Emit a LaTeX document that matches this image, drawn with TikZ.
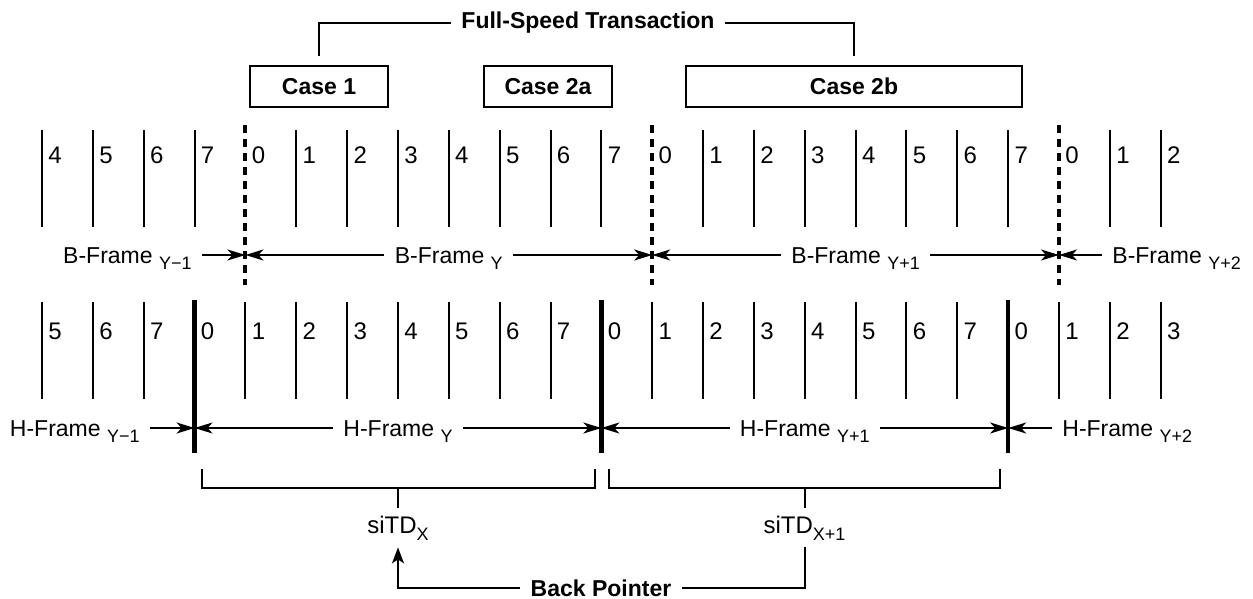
\documentclass[tikz,border=0pt]{standalone}
\usepackage{fontspec}
\setmainfont{Liberation Sans}
\usepackage{tikz}
\usetikzlibrary{arrows.meta, positioning, calc}

\newcommand{\lowsub}[1]{\raisebox{-3.2pt}{\fontsize{9}{10}\selectfont #1}}
\newcommand{\tdsub}[1]{\raisebox{-3.5pt}{\fontsize{9}{10}\selectfont #1}}

\begin{document}
\begin{tikzpicture}[x=0.5pt, y=-0.5pt,
  slotline/.style={line width=1pt},
  bbound/.style={line width=2pt, dash pattern=on 4pt off 3pt},
  hbound/.style={line width=2.2pt},
  slotnum/.style={anchor=west, inner sep=0pt, font=\fontsize{12}{14}\selectfont},
  frlabel/.style={inner xsep=5pt, inner ysep=1pt, font=\fontsize{11.5}{13}\selectfont},
  frarrow/.style={-{Stealth[length=9pt, width=5.5pt, inset=2.5pt]}, line width=1pt},
  casebox/.style={draw, line width=1pt, minimum height=20.5pt, inner sep=0pt, font=\bfseries\fontsize{11.5}{14}\selectfont},
  heading/.style={inner xsep=5pt, font=\bfseries\fontsize{11.5}{14}\selectfont},
  bracket/.style={line width=1pt},
  tdlabel/.style={inner xsep=2pt, inner ysep=3.5pt, font=\fontsize{12}{14}\selectfont},
  ptr/.style={-{Stealth[length=8pt, width=6pt, inset=2pt]}, line width=1pt}
]
  \useasboundingbox (0,0) rectangle (1253,599);

  \def\xo{42}
  \def\dx{50.85}
  \def\btop{130}
  \def\bbot{227}
  \def\bnum{155}
  \def\barr{255}
  \def\bbase{263}
  \def\htop{302}
  \def\hbot{399}
  \def\hnum{331}
  \def\harr{428}
  \def\hbase{436}

  % full-speed cases
  \node[casebox, minimum width=69pt] (case1) at (319,86.5) {Case 1};
  \node[casebox, minimum width=64pt] (case2a) at (548,86.5) {Case 2a};
  \node[casebox, minimum width=168pt] (case2b) at (854,86.5) {Case 2b};
  \node[heading] (fst) at (588,23) {Full-Speed Transaction};
  \draw[bracket] (fst.west) -| ([yshift=4.5pt]case1.north);
  \draw[bracket] (fst.east) -| ([yshift=4.5pt]case2b.north);

  % B-frame microframes
  \foreach \k in {0,...,22} {
    \pgfmathsetmacro\xx{\xo+\k*\dx}
    \pgfmathtruncatemacro\lb{mod(\k+4,8)}
    \ifnum\lb=0 \else \draw[slotline] (\xx,\btop) -- (\xx,\bbot); \fi
    \node[slotnum] (b\k) at (\xx+6,\bnum) {\lb};
  }
  \foreach \k/\nm in {4/bA,12/bB,20/bC} {
    \pgfmathsetmacro\xx{\xo+\k*\dx}
    \draw[bbound] (\xx,125) -- (\xx,285);
    \coordinate (\nm) at (\xx,\barr);
  }

  \node[frlabel, anchor=base east] (bfa) at (202,\bbase) {B-Frame \lowsub{Y−1}};
  \node[frlabel, anchor=base] (bfb) at (448.8,\bbase) {B-Frame \lowsub{Y}};
  \node[frlabel, anchor=base] (bfc) at (855.6,\bbase) {B-Frame \lowsub{Y+1}};
  \node[frlabel, anchor=base west] (bfd) at (1102,\bbase) {B-Frame \lowsub{Y+2}};
  \draw[frarrow] (bfa.east |- bA) -- (bA);
  \draw[frarrow] (bfb.west |- bA) -- (bA);
  \draw[frarrow] (bfb.east |- bB) -- (bB);
  \draw[frarrow] (bfc.west |- bB) -- (bB);
  \draw[frarrow] (bfc.east |- bC) -- (bC);
  \draw[frarrow] (bfd.west |- bC) -- (bC);

  % H-frame microframes
  \foreach \k in {0,...,22} {
    \pgfmathsetmacro\xx{\xo+\k*\dx}
    \pgfmathtruncatemacro\lb{mod(\k+5,8)}
    \ifnum\lb=0 \else \draw[slotline] (\xx,\htop) -- (\xx,\hbot); \fi
    \node[slotnum] (h\k) at (\xx+6,\hnum) {\lb};
  }
  \foreach \k/\nm in {3/hA,11/hB,19/hC} {
    \pgfmathsetmacro\xx{\xo+\k*\dx}
    \draw[hbound] (\xx,300) -- (\xx,453);
    \coordinate (\nm) at (\xx,\harr);
  }

  \node[frlabel, anchor=base east] (hfa) at (150,\hbase) {H-Frame \lowsub{Y−1}};
  \node[frlabel, anchor=base] (hfb) at (398,\hbase) {H-Frame \lowsub{Y}};
  \node[frlabel, anchor=base] (hfc) at (804.75,\hbase) {H-Frame \lowsub{Y+1}};
  \node[frlabel, anchor=base west] (hfd) at (1052,\hbase) {H-Frame \lowsub{Y+2}};
  \draw[frarrow] (hfa.east |- hA) -- (hA);
  \draw[frarrow] (hfb.west |- hA) -- (hA);
  \draw[frarrow] (hfb.east |- hB) -- (hB);
  \draw[frarrow] (hfc.west |- hB) -- (hB);
  \draw[frarrow] (hfc.east |- hC) -- (hC);
  \draw[frarrow] (hfd.west |- hC) -- (hC);

  % siTDs and back pointer
  \draw[bracket] (202,469) -- (202,488) -- (595,488) -- (595,469);
  \draw[bracket] (609,469) -- (609,488) -- (1000,488) -- (1000,469);
  \coordinate (stemA) at (398,488);
  \coordinate (stemB) at (804.5,488);
  \node[tdlabel, anchor=base] (tdx) at (398,533) {siTD\tdsub{X}};
  \node[tdlabel, anchor=base] (tdx1) at (804.5,533) {siTD\tdsub{X+1}};
  \draw[bracket] (stemA) -- (tdx.north);
  \draw[bracket] (stemB) -- (tdx1.north);

  \node[heading, anchor=base] (bp) at (601,596) {Back Pointer};
  \draw[bracket] (tdx1.south) |- (bp.east);
  \draw[ptr] (bp.west) -| (tdx.south);
\end{tikzpicture}
\end{document}
